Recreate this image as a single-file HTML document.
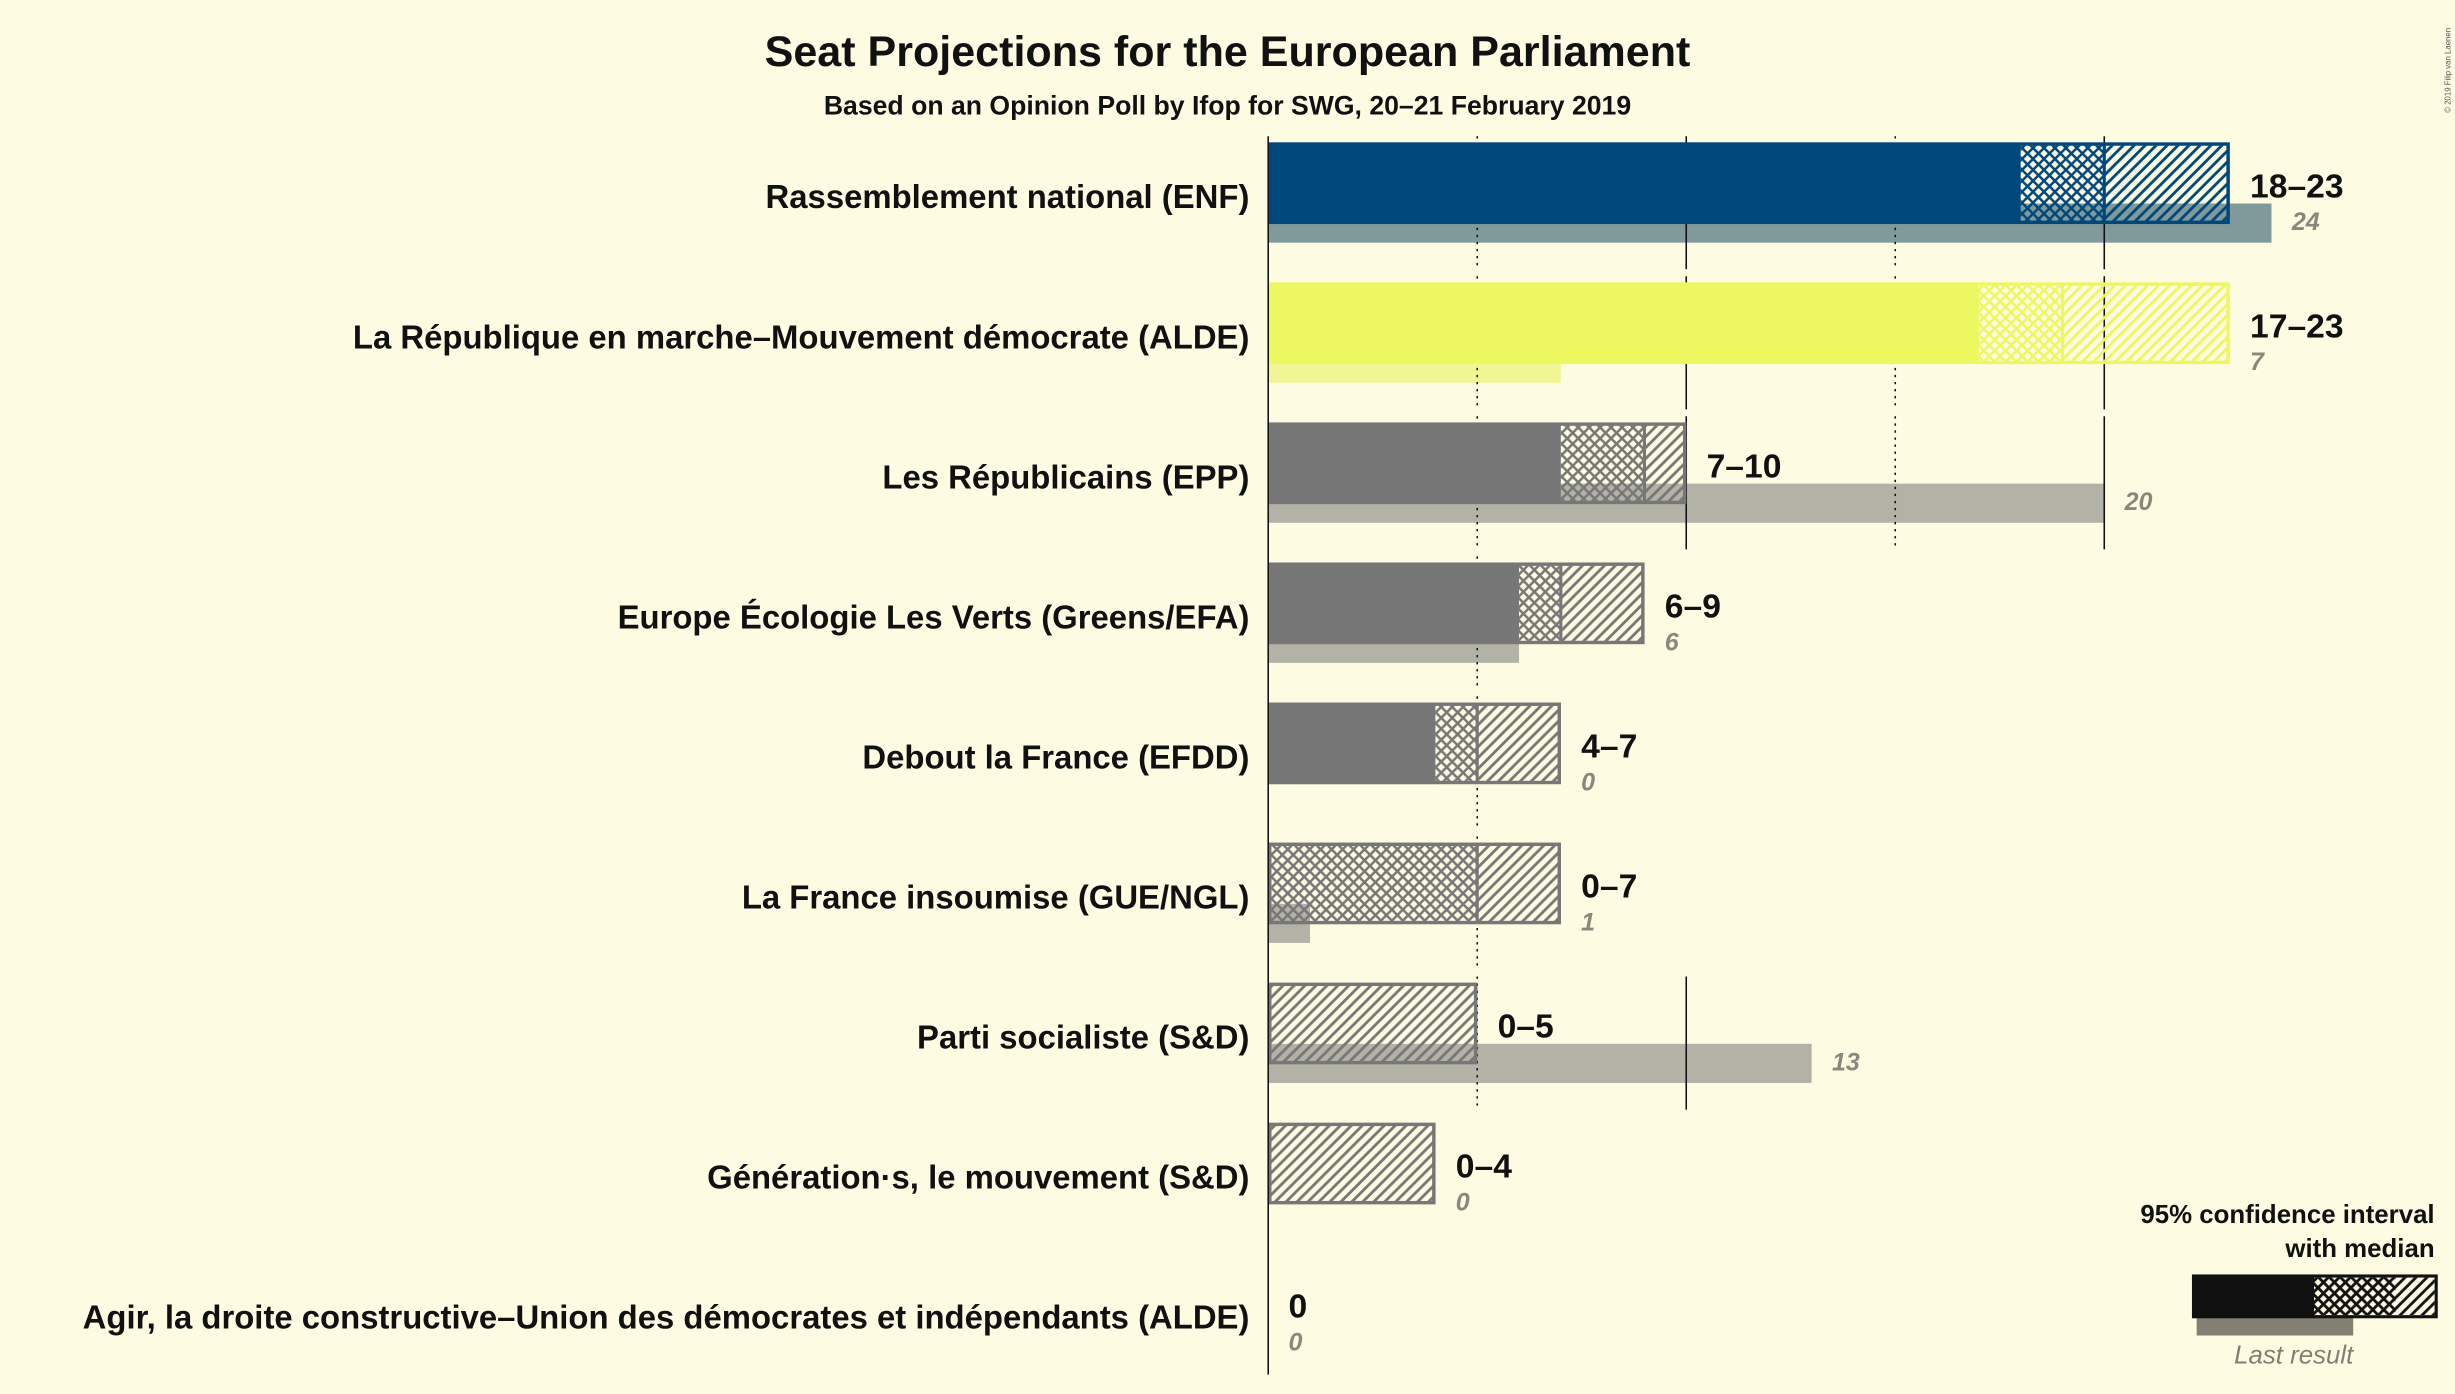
<!DOCTYPE html>
<html><head><meta charset="utf-8">
<style>
html,body{margin:0;padding:0;background:#FEFBE3;}
svg{display:block;}
text{font-family:"Liberation Sans",sans-serif;}
</style></head>
<body>
<svg id="chart" width="2455" height="1394" viewBox="0 0 1568 890.36" xmlns="http://www.w3.org/2000/svg">
<defs>
<pattern id="pc-blue" patternUnits="userSpaceOnUse" width="7" height="7"><path d="M-1,1 l2,-2 M0,7 l7,-7 M6,8 l2,-2 M-1,6 l2,2 M0,0 l7,7 M6,-1 l2,2" stroke="#00477B" stroke-width="1.6"/></pattern>
<pattern id="pd-blue" patternUnits="userSpaceOnUse" width="7" height="7"><path d="M-1,1 l2,-2 M0,7 l7,-7 M6,8 l2,-2" stroke="#00477B" stroke-width="1.8"/></pattern>
<pattern id="pc-yellow" patternUnits="userSpaceOnUse" width="7" height="7"><path d="M-1,1 l2,-2 M0,7 l7,-7 M6,8 l2,-2 M-1,6 l2,2 M0,0 l7,7 M6,-1 l2,2" stroke="#EDF760" stroke-width="1.6"/></pattern>
<pattern id="pd-yellow" patternUnits="userSpaceOnUse" width="7" height="7"><path d="M-1,1 l2,-2 M0,7 l7,-7 M6,8 l2,-2" stroke="#EDF760" stroke-width="1.8"/></pattern>
<pattern id="pc-grey" patternUnits="userSpaceOnUse" width="7" height="7"><path d="M-1,1 l2,-2 M0,7 l7,-7 M6,8 l2,-2 M-1,6 l2,2 M0,0 l7,7 M6,-1 l2,2" stroke="#777777" stroke-width="1.6"/></pattern>
<pattern id="pd-grey" patternUnits="userSpaceOnUse" width="7" height="7"><path d="M-1,1 l2,-2 M0,7 l7,-7 M6,8 l2,-2" stroke="#777777" stroke-width="1.8"/></pattern>
<pattern id="pc-black" patternUnits="userSpaceOnUse" width="7" height="7"><path d="M-1,1 l2,-2 M0,7 l7,-7 M6,8 l2,-2 M-1,6 l2,2 M0,0 l7,7 M6,-1 l2,2" stroke="#111" stroke-width="1.8"/></pattern>
<pattern id="pd-black" patternUnits="userSpaceOnUse" width="7" height="7"><path d="M-1,1 l2,-2 M0,7 l7,-7 M6,8 l2,-2" stroke="#111" stroke-width="1.8"/></pattern>
</defs>
<text x="784" y="42" text-anchor="middle" font-size="27.5" font-weight="bold" fill="#111">Seat Projections for the European Parliament</text>
<text x="784" y="73" text-anchor="middle" font-size="17" font-weight="bold" fill="#111">Based on an Opinion Poll by Ifop for SWG, 20–21 February 2019</text>
<text transform="translate(1565,72) rotate(-90)" font-size="5" fill="#555">© 2019 Filip van Laenen</text>
<g id="last-layer"></g>
<g id="grid-layer"></g>
<g id="bar-layer"></g>
<g id="label-layer"></g>
<line x1="810" y1="87" x2="810" y2="878" stroke="#111" stroke-width="1"/>
<g>
<text x="1555" y="781" text-anchor="end" font-size="16.5" font-weight="bold" fill="#111">95% confidence interval</text>
<text x="1555" y="803" text-anchor="end" font-size="16.5" font-weight="bold" fill="#111">with median</text>
<rect x="1403" y="840" width="100" height="13" fill="#827F73"/>
<rect x="1401" y="815" width="77" height="26" fill="#111"/>
<rect x="1477" y="816" width="53" height="24" fill="url(#pc-black)"/>
<rect x="1530" y="816" width="25" height="24" fill="url(#pd-black)"/>
<rect x="1401" y="815" width="155" height="26" fill="none" stroke="#111" stroke-width="2"/>
<text x="1465" y="871" text-anchor="middle" font-size="16.5" font-style="italic" fill="#827F73">Last result</text>
</g>
</svg>
<script>
const parties = ["Rassemblement national (ENF)","La République en marche–Mouvement démocrate (ALDE)","Les Républicains (EPP)","Europe Écologie Les Verts (Greens/EFA)","Debout la France (EFDD)","La France insoumise (GUE/NGL)","Parti socialiste (S&D)","Génération·s, le mouvement (S&D)","Agir, la droite constructive–Union des démocrates et indépendants (ALDE)"];
const lows = [18,17,7,6,4,0,0,0,0];
const medians = [20,19,9,7,5,5,0,0,0];
const highs = [23,23,10,9,7,7,5,4,0];
const lastResults = [24,7,20,6,0,1,13,0,0];
const colorKeys = ["blue","yellow","grey","grey","grey","grey","grey","grey","grey"];
const gridTicks = [5,10,15,20];

const NS="http://www.w3.org/2000/svg";
const X0=810, PX=26.7, ROW0=91, ROWSTEP=89.45, BARH=52;
const fills={blue:"#00477B",yellow:"#EDF760",grey:"#777777"};
const lastFills={blue:"#7F9A9A",yellow:"#F0F595",grey:"#B3B2A6"};
function xs(v){return X0+v*PX;}
function mk(tag,attrs,parent){const e=document.createElementNS(NS,tag);for(const k in attrs)e.setAttribute(k,attrs[k]);parent.appendChild(e);return e;}
const lastL=document.getElementById('last-layer'),gridL=document.getElementById('grid-layer'),barL=document.getElementById('bar-layer'),labL=document.getElementById('label-layer');

parties.forEach((p,i)=>{
  const top=ROW0+i*ROWSTEP, c=colorKeys[i];
  if(lastResults[i]>0){
    const lr=mk('rect',{x:X0,y:top+39,width:xs(lastResults[i])-X0,height:25,fill:lastFills[c]},lastL);
    
    
  }
  const mx=Math.max(highs[i],lastResults[i]);
  gridTicks.forEach(t=>{
    if(t<=mx){
      const g=mk('line',{x1:xs(t),x2:xs(t),y1:top-4,y2:top+81,stroke:"#111","stroke-width":1,"stroke-dasharray":(t%10===0)?"none":"1.5,3"},gridL);
      
      
    }
  });
  if(highs[i]>0){
    if(lows[i]>0){
      const s=mk('rect',{x:X0,y:top,width:xs(lows[i])-X0,height:BARH,fill:fills[c]},barL);
      
      
    }
    if(medians[i]>lows[i]){
      const ch=mk('rect',{x:xs(lows[i]),y:top+2,width:xs(medians[i])-xs(lows[i]),height:BARH-4,fill:"url(#pc-"+c+")"},barL);
      
      
    }
    if(highs[i]>medians[i]){
      const dg=mk('rect',{x:xs(medians[i]),y:top+2,width:xs(highs[i])-xs(medians[i]),height:BARH-4,fill:"url(#pd-"+c+")"},barL);
      
      
      if(medians[i]>lows[i]){
        mk('line',{x1:xs(medians[i]),x2:xs(medians[i]),y1:top,y2:top+BARH,stroke:fills[c],"stroke-width":2},barL);
      }
    }
    const fr=mk('rect',{x:X0+1,y:top+1,width:xs(highs[i])-X0-2,height:BARH-2,fill:"none",stroke:fills[c],"stroke-width":2.2},barL);
    
    
  }
  const nl=mk('text',{x:798,y:top+42,"text-anchor":"end","font-size":21,"font-weight":"bold",fill:"#111"},labL);
  nl.textContent=p;
  
  
  const rl=mk('text',{x:xs(highs[i])+13,y:top+35,"font-size":21.5,"font-weight":"bold",fill:"#111"},labL);
  rl.textContent=(highs[i]===lows[i])?String(highs[i]):(lows[i]+"–"+highs[i]);
  
  
  const ll=mk('text',{x:xs(Math.max(highs[i],lastResults[i]))+13,y:top+56,"font-size":16,"font-style":"italic","font-weight":"bold",fill:"#8a887c"},labL);
  ll.textContent=String(lastResults[i]);
  
  
});
</script>
</body></html>
